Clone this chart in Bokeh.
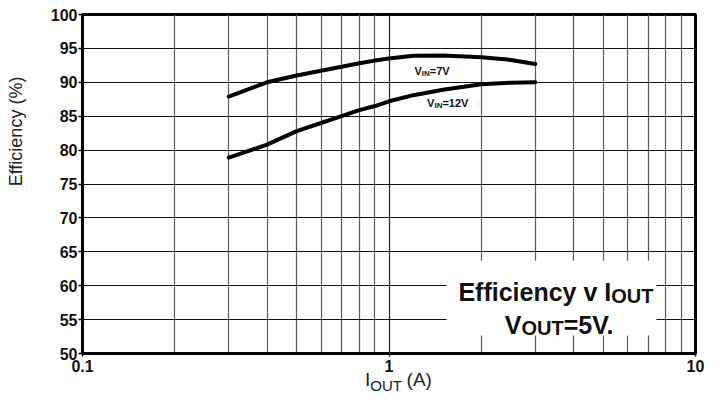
import math
from bokeh.plotting import figure
from bokeh.models import (FixedTicker, Label, BoxAnnotation, Range1d, BasicTickFormatter,
                          LogAxis, CustomJSTickFormatter, Title)
from bokeh.embed import file_html
from bokeh.resources import INLINE

# ---- data ----
iout = [0.3, 0.4, 0.5, 0.6, 0.7, 0.8, 0.9, 1.0, 1.2, 1.5, 2.0, 2.5, 3.0]
eff_vin7 = [87.9, 90.0, 91.0, 91.7, 92.3, 92.8, 93.2, 93.5, 93.9, 93.95, 93.7, 93.3, 92.7]
eff_vin12 = [78.9, 80.8, 82.8, 84.0, 85.0, 85.9, 86.5, 87.2, 88.1, 88.9, 89.7, 89.95, 90.0]

x_major_ticks = [0.1, 1, 10]
x_minor_ticks = [0.2, 0.3, 0.4, 0.5, 0.6, 0.7, 0.8, 0.9, 2, 3, 4, 5, 6, 7, 8, 9]
y_ticks = [50, 55, 60, 65, 70, 75, 80, 85, 90, 95, 100]

y_title = "Efficiency (%)"
x_title = ["I", "OUT", "(A)"]
box_line1 = ["Efficiency v I", "OUT"]
box_line2 = ["V", "OUT", "=5V."]
label_vin7 = ["V", "IN", "=7V"]
label_vin12 = ["V", "IN", "=12V"]

FONT = "Liberation Sans"
W, H = 706, 396
FL, FR, FT, FB = 82, 695, 14, 356          # frame of this figure (px)
RL, RR, RT, RB = 82, 710, 14, 372          # frame of the reference picture (px)
XMIN, XMAX, YMIN, YMAX = 0.1, 10, 50, 100
DEC = math.log10(XMAX / XMIN)


def ref_x(px):   # reference pixel -> data x
    return XMIN * 10 ** ((px - RL) / (RR - RL) * DEC)


def ref_y(py):   # reference pixel -> data y
    return YMIN + (RB - py) / (RB - RT) * (YMAX - YMIN)


def new_px(px_ref):  # reference pixel x -> pixel x of this frame
    return FL + (px_ref - RL) * (FR - FL) / (RR - RL)


def new_x(px):   # pixel of this frame -> data x
    return XMIN * 10 ** ((px - FL) / (FR - FL) * DEC)


ADV_R = {" ": .278, "(": .333, ")": .333, "%": .889, "A": .667, "E": .667, "I": .278,
         "O": .778, "U": .722, "T": .611, "V": .667, "N": .722, "=": .584, ".": .278,
         "c": .5, "e": .556, "f": .278, "i": .222, "n": .556, "y": .5, "v": .5}
ADV_B = {" ": .278, "E": .667, "I": .278, "O": .778, "U": .722, "T": .611, "V": .667,
         "N": .722, "=": .584, ".": .278, "c": .556, "e": .556, "f": .333, "i": .278,
         "n": .611, "y": .556, "v": .556}


def tw(text, size, bold=True):
    adv = ADV_B if bold else ADV_R
    return sum(adv.get(ch, .556) for ch in text) * size


p = figure(width=W, height=H, x_axis_type="log",
           x_range=Range1d(XMIN, XMAX), y_range=Range1d(YMIN, YMAX),
           output_backend="svg", toolbar_location=None,
           min_border_left=FL, min_border_right=W - FR,
           min_border_top=FT, min_border_bottom=H - FB)
p.background_fill_color = "white"
p.border_fill_color = "white"
p.outline_line_color = "black"
p.outline_line_width = 3

# main axes
xa = p.xaxis[0]
ya = p.yaxis[0]
xa.ticker = FixedTicker(ticks=x_major_ticks, minor_ticks=x_minor_ticks)
xa.formatter = BasicTickFormatter()
ya.ticker = FixedTicker(ticks=y_ticks)
for ax in (xa, ya):
    ax.axis_line_width = 3
    ax.axis_line_color = "black"
    ax.major_tick_line_color = "black"
    ax.major_tick_line_width = 1.5
    ax.major_tick_in = 0
    ax.minor_tick_line_color = None
    ax.minor_tick_out = 0
    ax.minor_tick_in = 0
    ax.major_label_text_font = FONT
    ax.major_label_text_font_style = "bold"
    ax.major_label_text_font_size = "16px"
    ax.major_label_text_color = "#111111"
ya.major_tick_out = 4
ya.major_label_standoff = 1
xa.major_tick_out = 3
xa.major_label_standoff = 3
# invisible spacer label so that the y title sits at the far left
ya.axis_label = " "
ya.axis_label_text_font_size = "1px"
ya.axis_label_standoff = 17

# y title, placed along the axis like the reference (not centred)
y_start_new = FT + (197 - RT) * (FB - FT) / (RB - RT)
p.add_layout(Title(text=y_title, align="left", offset=FB - y_start_new, standoff=0,
                   vertical_align="middle", text_font=FONT, text_font_size="18px",
                   text_font_style="normal", text_color="#222222"), "left")

# x title "I_OUT (A)" drawn as two extra label rows under the axis
xs = new_px(371.5)
c_I = xs + tw(x_title[0], 19, False) / 2
c_OUT = xs + tw(x_title[0], 19, False) + tw(x_title[1], 15, False) / 2
c_A = xs + (413 - 371.5) + tw(x_title[2], 19, False) / 2


def label_axis(ticks, labels, size, standoff):
    ax = LogAxis(ticker=FixedTicker(ticks=[new_x(t) for t in ticks]),
                 formatter=CustomJSTickFormatter(args=dict(labels=labels),
                                                 code="return labels[index];"),
                 axis_line_color=None, major_tick_line_color=None,
                 minor_tick_line_color=None, major_tick_out=0, major_tick_in=0,
                 minor_tick_out=0, minor_tick_in=0, major_label_standoff=standoff,
                 major_label_text_font=FONT, major_label_text_font_size=f"{size}px",
                 major_label_text_font_style="normal", major_label_text_color="#222222")
    p.add_layout(ax, "below")


label_axis([c_I, c_A], [x_title[0], x_title[2]], 19, -6)
label_axis([c_OUT], [x_title[1]], 15, -16)

# grid
p.xgrid.grid_line_color = "#222222"
p.xgrid.grid_line_width = 1.2
p.xgrid.minor_grid_line_color = "#5a5a5a"
p.xgrid.minor_grid_line_width = 1.2
p.ygrid.grid_line_color = "#111111"
p.ygrid.grid_line_width = 1.1

# curves
p.line(iout, eff_vin7, line_color="black", line_width=4, line_join="round", line_cap="round")
p.line(iout, eff_vin12, line_color="black", line_width=4, line_join="round", line_cap="round")

# white box behind the caption
p.add_layout(BoxAnnotation(left=ref_x(455), right=ref_x(670), bottom=ref_y(353), top=ref_y(274),
                           fill_color="white", fill_alpha=1.0, line_color=None))


def chain(pieces, start_ref_px=None, center_ref_px=None):
    """pieces: (text, size, bold, baseline_ref_px). Pieces are set side by side."""
    total = sum(tw(t, s, b) for t, s, b, _ in pieces)
    if center_ref_px is not None:
        start = new_px(center_ref_px) - total / 2
    else:
        start = new_px(start_ref_px)
    off = 0.0
    for t, s, b, base in pieces:
        p.add_layout(Label(x=new_x(start), y=ref_y(base), x_offset=off, text=t,
                           text_font=FONT, text_font_size=f"{s}px",
                           text_font_style="bold" if b else "normal",
                           text_align="left", text_baseline="alphabetic",
                           text_color="#111111"))
        off += tw(t, s, b)


chain([(box_line1[0], 25, True, 307), (box_line1[1], 20, True, 311)], center_ref_px=567)
chain([(box_line2[0], 25, True, 341.5), (box_line2[1], 20, True, 345.5),
       (box_line2[2], 25, True, 341.5)], center_ref_px=571.5)

chain([(label_vin7[0], 11, True, 73.3), (label_vin7[1], 8, True, 75.8),
       (label_vin7[2], 11, True, 73.3)], start_ref_px=422)
chain([(label_vin12[0], 11, True, 107.3), (label_vin12[1], 8, True, 109.8),
       (label_vin12[2], 11, True, 107.3)], start_ref_px=435)

open("out.html", "w").write(file_html(p, INLINE))
